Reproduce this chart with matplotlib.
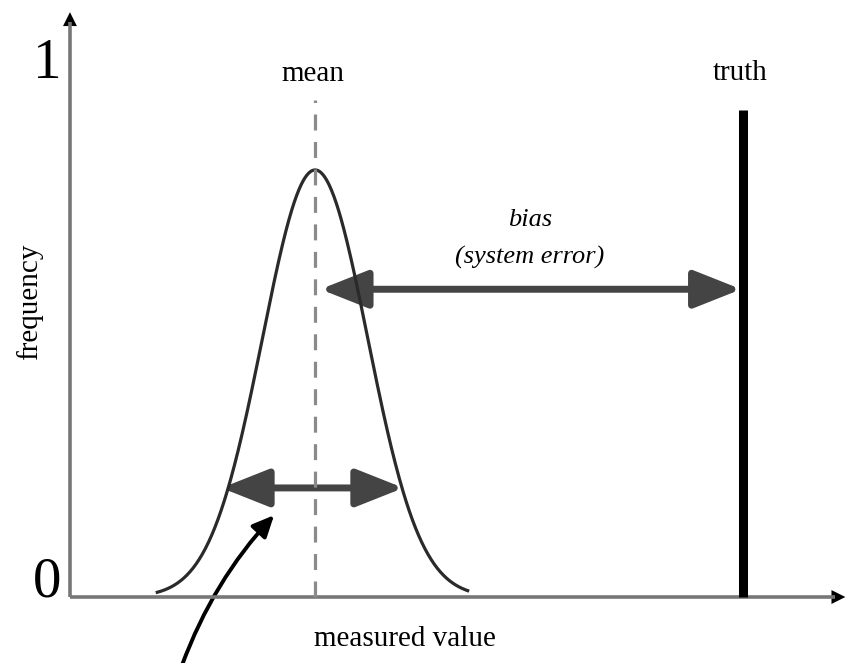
import numpy as np
import matplotlib
matplotlib.use("Agg")
import matplotlib.pyplot as plt
from matplotlib.patches import FancyArrowPatch

# ---- data (measured value in units of sigma, frequency 0..1) ----
mean_value = 0.0
sigma = 1.0
peak_frequency = 0.877
curve_range = [-3.0, 2.9]
truth_value = 8.14
truth_height = 1.0
bias_arrow_x = [0.1, 8.1]
bias_arrow_y = 0.632
spread_arrow_x = [-1.78, 1.68]
spread_arrow_y = 0.224
mean_line_top = 1.02
pointer_start = [-2.53, -0.14]
pointer_end = [-0.78, 0.168]
axis_origin = [-4.66, 0.0]
axis_x_end = 10.08
axis_y_end = 1.201
y_tick_labels = ["0", "1"]
y_tick_positions = [0.03, 1.095]

serif = ["Liberation Serif", "DejaVu Serif"]

fig = plt.figure(figsize=(8.48, 6.63), dpi=100)
ax = fig.add_axes([0, 0, 1, 1])
ax.set_xlim(-5.99, 10.13)
ax.set_ylim(-0.1355, 1.226)
ax.axis("off")

# axes
axis_gray = "#777777"
ax.plot([axis_origin[0], axis_origin[0]], [axis_origin[1], axis_y_end - 0.02],
        color=axis_gray, lw=2.6, solid_capstyle="butt")
ax.plot([axis_origin[0], axis_x_end - 0.2], [axis_origin[1], axis_origin[1]],
        color=axis_gray, lw=2.6, solid_capstyle="butt")
for start, end in [((axis_origin[0], axis_y_end - 0.035), (axis_origin[0], axis_y_end)),
                   ((axis_x_end - 0.3, axis_origin[1]), (axis_x_end, axis_origin[1]))]:
    ax.add_patch(FancyArrowPatch(start, end, arrowstyle="-|>,head_length=10,head_width=5",
                                 mutation_scale=1, color="black", lw=0,
                                 shrinkA=0, shrinkB=0))

# gaussian curve
xs = np.linspace(curve_range[0], curve_range[1], 400)
ys = peak_frequency * np.exp(-0.5 * ((xs - mean_value) / sigma) ** 2)
ax.plot(xs, ys, color="#2a2a2a", lw=2.3)

# mean dashed line
ax.plot([mean_value, mean_value], [0, mean_line_top], color="#8a8a8a", lw=2.3,
        dashes=(5, 3.6))

# truth bar
ax.plot([truth_value, truth_value], [0, truth_height], color="black", lw=6.5,
        solid_capstyle="butt")

arrow_color = "#444444"
# bias arrow
ax.add_patch(FancyArrowPatch((bias_arrow_x[0], bias_arrow_y), (bias_arrow_x[1], bias_arrow_y),
                             arrowstyle="<|-|>,head_length=29,head_width=11.5",
                             mutation_scale=1, color=arrow_color, lw=5,
                             shrinkA=0, shrinkB=0))
# spread arrow
ax.add_patch(FancyArrowPatch((spread_arrow_x[0], spread_arrow_y), (spread_arrow_x[1], spread_arrow_y),
                             arrowstyle="<|-|>,head_length=29,head_width=11.5",
                             mutation_scale=1, color=arrow_color, lw=5,
                             shrinkA=0, shrinkB=0))
# curved pointer
ax.add_patch(FancyArrowPatch(tuple(pointer_start), tuple(pointer_end),
                             arrowstyle="-|>,head_length=13,head_width=6",
                             connectionstyle="arc3,rad=-0.1",
                             mutation_scale=1, color="black", lw=2.8,
                             shrinkA=0, shrinkB=0, clip_on=False))

# texts
ax.text(mean_value - 0.05, 1.075, "mean", ha="center", va="center", fontsize=21, family=serif)
ax.text(truth_value - 0.06, 1.077, "truth", ha="center", va="center", fontsize=21, family=serif)
ax.text(4.08, 0.775, "bias", ha="center", va="center", fontsize=19, style="italic", family=serif)
ax.text(4.08, 0.697, "(system error)", ha="center", va="center", fontsize=19, style="italic", family=serif)
ax.text(1.71, -0.086, "measured value", ha="center", va="center", fontsize=21, family=serif)
ax.text(-5.43, 0.607, "frequency", ha="center", va="center", rotation=90, fontsize=21, family=serif)
for lab, pos in zip(y_tick_labels, y_tick_positions):
    ax.text(-5.1, pos, lab, ha="center", va="center", fontsize=41, family=serif)

fig.savefig("out.png", dpi=100)
